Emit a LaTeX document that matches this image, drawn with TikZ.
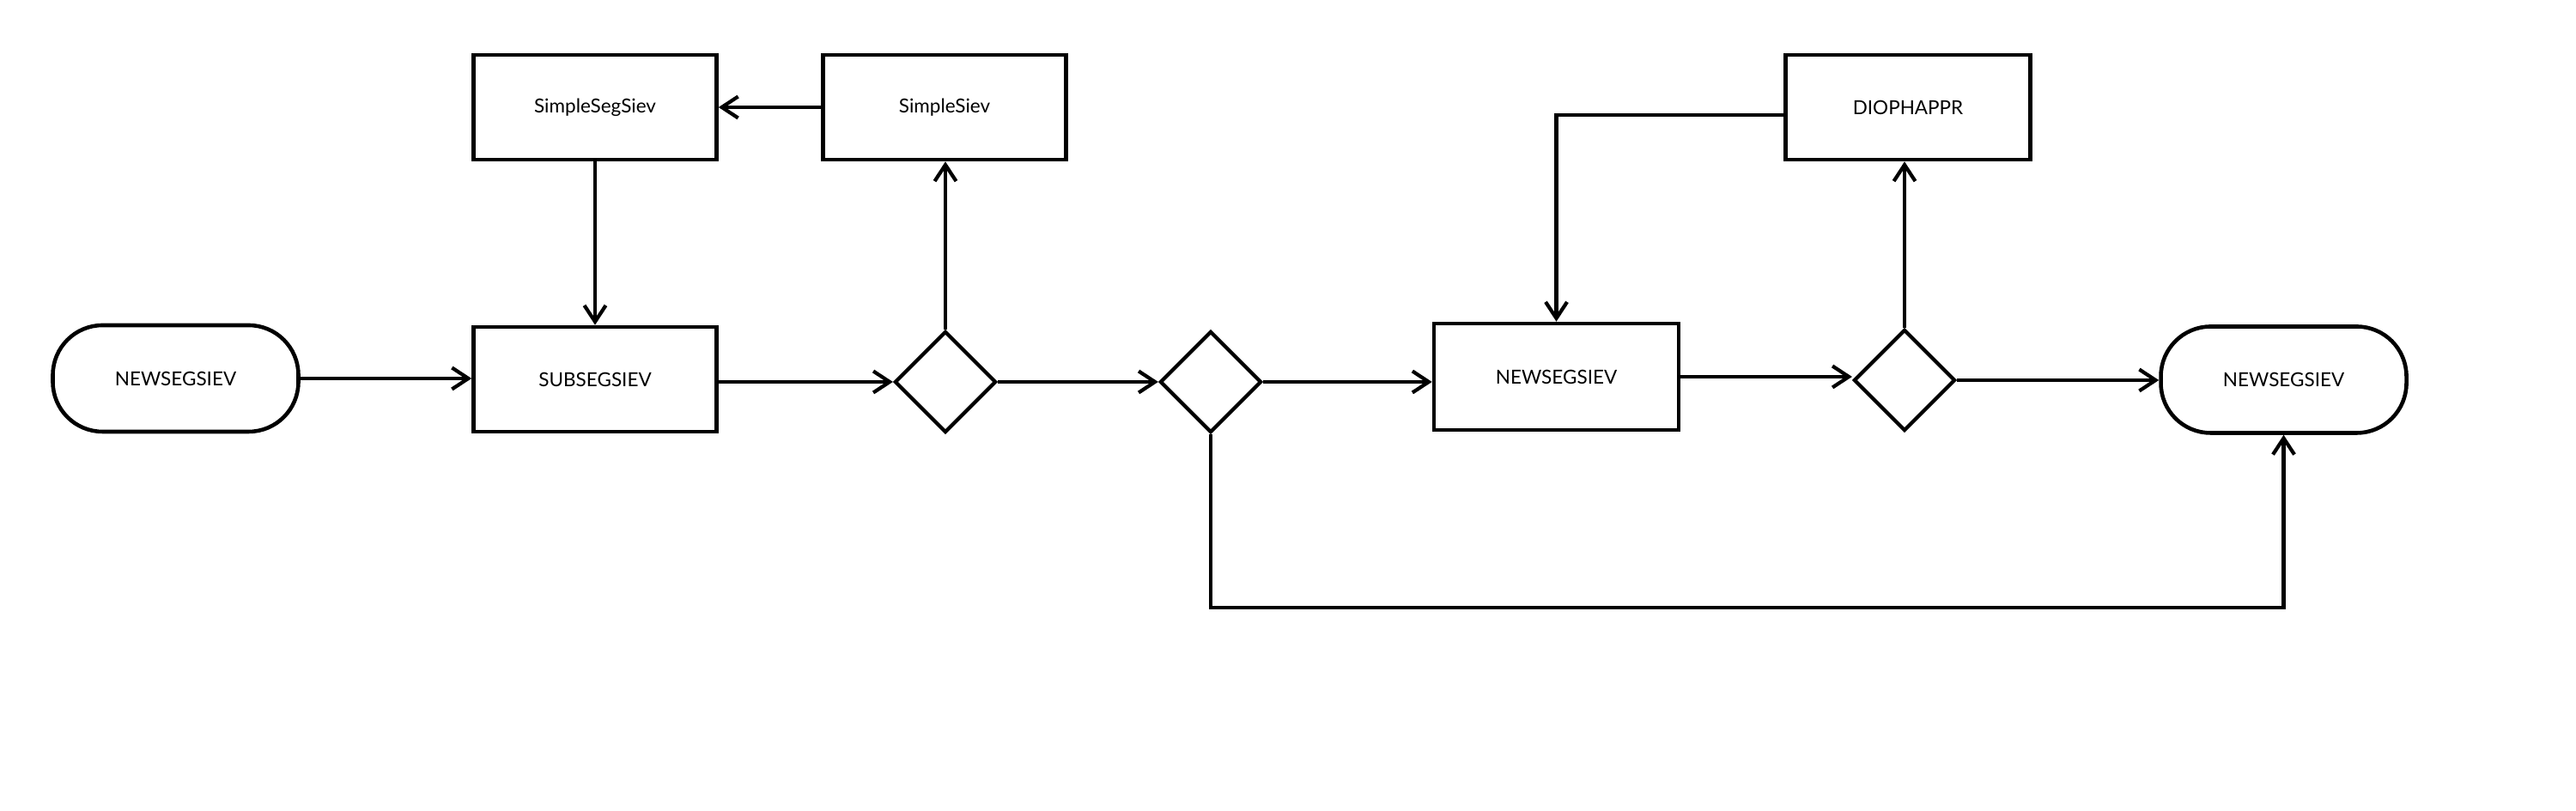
\documentclass[tikz,border=0pt]{standalone}
\usepackage{fontspec}
\setmainfont{Lato}
\usepackage{tikz}
\usetikzlibrary{shapes.geometric,arrows.meta}

\begin{document}
\begin{tikzpicture}[>={Straight Barb[length=1.9mm,width=2.5mm]},
		every node/.style={font=\fontsize{6.4}{7.7}\selectfont},
		procbox/.style={draw,line width=1.3pt,minimum width=2.83cm,minimum height=1.22cm,inner sep=0pt},
		termbox/.style={draw,line width=1.3pt,rounded corners=0.58cm,minimum width=2.86cm,minimum height=1.24cm,inner sep=0pt},
		decide/.style={draw,diamond,line width=1.2pt,minimum width=1.18cm,minimum height=1.18cm,inner sep=0pt},
		flow/.style={->,line width=1.2pt}]
			\useasboundingbox (0, 0) rectangle (30, 9.45);
			\node[termbox] (start) at (2.045, 5.04) {NEWSEGSIEV};
			\node[procbox] (subseg) at (6.93, 5.03) {SUBSEGSIEV};
			\node[decide] (dec1) at (11.01, 5.0) {};
			\node[decide] (dec2) at (14.10, 5.0) {};
			\node[procbox,minimum width=2.85cm,minimum height=1.24cm] (newseg) at (18.125, 5.06) {NEWSEGSIEV};
			\node[decide] (dec3) at (22.18, 5.02) {};
			\node[termbox] (stop) at (26.595, 5.025) {NEWSEGSIEV};
			\node[procbox] (simpseg) at (6.93, 8.2) {SimpleSegSiev};
			\node[procbox] (simp) at (11.0, 8.2) {SimpleSiev};
			\node[procbox,minimum width=2.85cm] (dioph) at (22.22, 8.2) {DIOPHAPPR};
			\coordinate (low) at (14.10, 2.37);
			\draw[flow] (start.east) -- (start.east -| subseg.west);
			\draw[flow] (subseg.east |- dec1.west) -- (dec1.west);
			\draw[flow] (dec1.north) -- (dec1.north |- simp.south);
			\draw[flow] (simp) -- (simpseg);
			\draw[flow] (simpseg.south) -- (simpseg.south |- subseg.north);
			\draw[flow] (dec1.east) -- (dec2.west);
			\draw[flow] (dec2.east) -- (dec2.east -| newseg.west);
			\draw[flow] (newseg.east) -- (newseg.east -| dec3.west);
			\draw[flow] (dec3.north) -- (dec3.north |- dioph.south);
			\draw[flow] ([yshift=-0.9mm]dioph.west) -| (newseg.north);
			\draw[flow] (dec3.east) -- (dec3.east -| stop.west);
			\draw[flow] (dec2.south) -- (low) -| (stop.south);
\end{tikzpicture}
\end{document}
